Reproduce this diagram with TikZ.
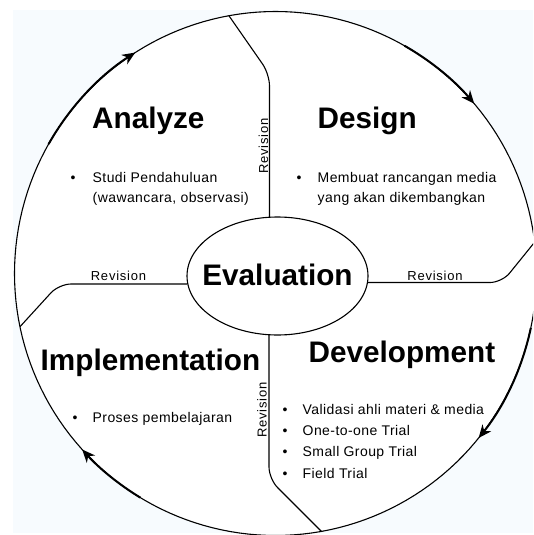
\documentclass[tikz,border=0pt]{standalone}
\usepackage{fontspec}
\setmainfont{Liberation Sans}
\newfontfamily\smallfont[LetterSpace=3]{Liberation Sans}
\newfontfamily\revfont[LetterSpace=6]{Liberation Sans}
\usetikzlibrary{arrows.meta,shapes.geometric}
\definecolor{bgblue}{RGB}{247,251,254}
\tikzset{
  cycleoutline/.style={draw=black, line width=1.1pt, fill=white},
  splitline/.style={draw=black, line width=1.1pt, rounded corners=12pt},
  flowarrow/.style={draw=black, line width=2pt, arrows={-Stealth[length=13pt,width=11pt,inset=4pt]}},
  heading/.style={font=\bfseries\fontsize{29.7}{32}\selectfont, inner sep=0pt, anchor=base west},
  bullettext/.style={font=\smallfont\fontsize{14}{16}\selectfont, inner sep=0pt, anchor=base west},
  bulletmark/.style={font=\fontsize{14}{16}\selectfont, inner sep=0pt, anchor=base},
  revlabel/.style={font=\revfont\fontsize{13}{15}\selectfont, inner sep=0pt, anchor=base},
}
\begin{document}
\begin{tikzpicture}[x=1pt,y=-1pt]
\useasboundingbox (0,0) rectangle (533,535);
\clip (0,0) rectangle (533,535);
\fill[bgblue] (13,10) rectangle (533,533);
% arrow start points on the ring
\coordinate (s1) at ({275.5+261*cos(150.4)},{273.5-262*sin(150.4)});
\coordinate (s2) at ({275.5+261*cos(60.4)},{273.5-262*sin(60.4)});
\coordinate (s3) at ({275.5+261*cos(-12)},{273.5-262*sin(-12)});
\coordinate (s4) at ({275.5+261*cos(-121.2)},{273.5-262*sin(-121.2)});
% junctions (on the ring) and corners
\coordinate (jtop) at (228.9,15.7);
\coordinate (jleft) at (20,326.7);
\coordinate (jright) at (534.6,242.2);
\coordinate (jbot) at (321.4,531.4);
\coordinate (ctop) at (269.5,74);
\coordinate (cleft) at (59,284);
\coordinate (cright) at (502,282.5);
\coordinate (cbot) at (269,479);
% outer ring
\path[cycleoutline] plot[domain=0:360, samples=181] ({275.5+261*cos(\x)},{273.5-262*sin(\x)}) -- cycle;
% flow arrows along the ring
\draw[flowarrow] (s1) arc[start angle=150.4, end angle=122.5, x radius=261pt, y radius=262pt];
\draw[flowarrow] (s2) arc[start angle=60.4, end angle=40.4, x radius=261pt, y radius=262pt];
\draw[flowarrow] (s3) arc[start angle=-12, end angle=-38.9, x radius=261pt, y radius=262pt];
\draw[flowarrow] (s4) arc[start angle=-121.2, end angle=-137.8, x radius=261pt, y radius=262pt];
% centre
\node[ellipse, draw=black, line width=1.1pt, fill=white, minimum width=181pt, minimum height=118pt, inner sep=0pt, outer sep=0pt] (E) at (277.5,276) {};
% dividers
\draw[splitline] (jtop) -- (ctop) -- (ctop |- E.north);
\draw[splitline] (E.west |- cleft) -- (cleft) -- (jleft);
\draw[splitline] (E.east |- cright) -- (cright) -- (jright);
\draw[splitline] (cbot |- E.south) -- (cbot) -- (jbot);
% headings
\node[heading] (tA) at (92,128) {Analyze};
\node[heading] (tD) at (317.5,128) {Design};
\node[heading] (tI) at (40.5,370) {Implementation};
\node[heading] (tV) at (308.5,362) {Development};
\node[heading, anchor=base] (tE) at (277.5,285) {Evaluation};
% Analyze items
\node[bulletmark] (bA) at (73,182) {\textbullet};
\node[bullettext] (a1) at (92.5,182) {Studi Pendahuluan};
\node[bullettext] (a2) at (92.5,202) {(wawancara, observasi)};
% Design items
\node[bulletmark] (bD) at (299,182) {\textbullet};
\node[bullettext] (d1) at (317.5,182) {Membuat rancangan media};
\node[bullettext] (d2) at (317.5,202) {yang akan dikembangkan};
% Implementation items
\node[bulletmark] (bI) at (75,422.5) {\textbullet};
\node[bullettext] (i1) at (92.5,422.5) {Proses pembelajaran};
% Development items
\node[bulletmark] (bV1) at (285,414) {\textbullet};
\node[bullettext] (v1) at (302.5,414) {Validasi ahli materi \& media};
\node[bulletmark] (bV2) at (285,435) {\textbullet};
\node[bullettext] (v2) at (302.5,435) {One-to-one Trial};
\node[bulletmark] (bV3) at (285,456.5) {\textbullet};
\node[bullettext] (v3) at (302.5,456.5) {Small Group Trial};
\node[bulletmark] (bV4) at (285,478) {\textbullet};
\node[bullettext] (v4) at (302.5,478) {Field Trial};
% revision labels
\node[revlabel, rotate=90] (r1) at (268,146) {Revision};
\node[revlabel, rotate=90] (r2) at (266.5,410) {Revision};
\node[revlabel] (r3) at (118.5,280.5) {Revision};
\node[revlabel] (r4) at (435,280) {Revision};
\end{tikzpicture}
\end{document}
